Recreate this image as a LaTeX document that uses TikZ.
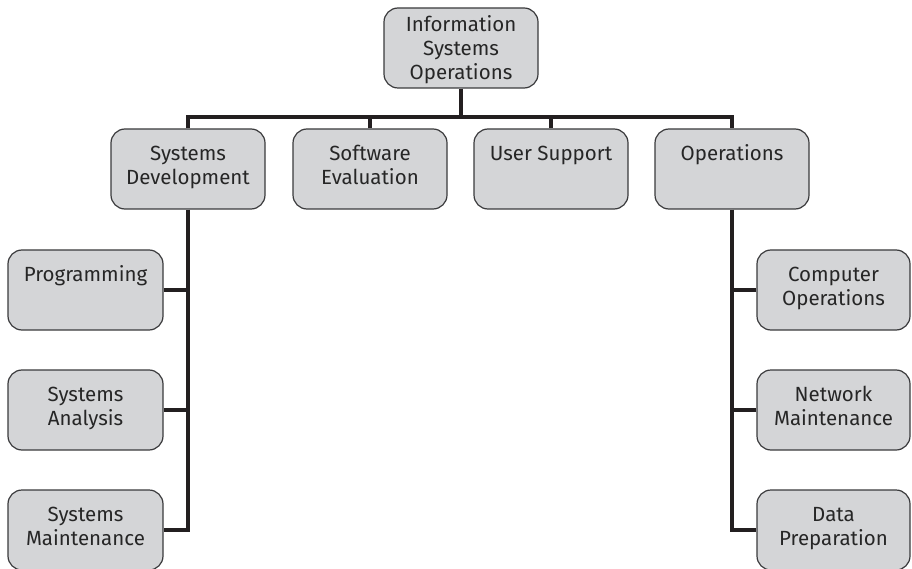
\documentclass[tikz,border=0pt]{standalone}
\usepackage{fontspec}
\setmainfont{Fira Sans}
\definecolor{boxfill}{HTML}{D4D5D7}
\definecolor{boxline}{HTML}{3A3A3C}
\definecolor{wire}{HTML}{231F20}
\tikzset{
  unitbox/.style={draw=boxline, line width=1.2pt, fill=boxfill,
    rounded corners=14pt, minimum width=#1, minimum height=80pt,
    inner sep=0pt},
  unitbox/.default=154pt,
  caption/.style={anchor=base, align=center, inner sep=0pt,
    font=\fontsize{20.5}{24}\selectfont, text=black!85},
  conn/.style={draw=wire, line width=4pt},
}
% box name, centre, width, text, offset of the last baseline from the top edge
\newcommand\orgunit[5]{%
  \node[unitbox=#3] (#1) at #2 {};
  \node[caption] (#1-txt) at ([yshift=-#5]#1.north) {#4};
}
\begin{document}
\begin{tikzpicture}[x=1pt, y=-1pt]
  \useasboundingbox (0,0) rectangle (912,569);

  % top of the hierarchy
  \orgunit{top}{(461,48)}{154pt}{Information\\Systems\\Operations}{72pt}

  % second level
  \orgunit{sd}{(188,169)}{154pt}{Systems\\Development}{56pt}
  \orgunit{se}{(370,169)}{154pt}{Software\\Evaluation}{56pt}
  \orgunit{us}{(551,169)}{154pt}{User Support}{32pt}
  \orgunit{ops}{(732,169)}{154pt}{Operations}{32pt}

  % units under Systems Development
  \orgunit{prog}{(85.5,290)}{155pt}{Programming}{32pt}
  \orgunit{sa}{(85.5,410)}{155pt}{Systems\\Analysis}{56pt}
  \orgunit{sm}{(85.5,530)}{155pt}{Systems\\Maintenance}{56pt}

  % units under Operations
  \orgunit{co}{(833.5,290)}{153pt}{Computer\\Operations}{56pt}
  \orgunit{nm}{(833.5,410)}{153pt}{Network\\Maintenance}{56pt}
  \orgunit{dp}{(833.5,530)}{153pt}{Data\\Preparation}{56pt}

  % bus below the top unit
  \path (top.south) ++(0,28) coordinate (bus);
  \draw[conn] (top.south) -- (bus);
  \draw[conn] (sd.north) |- (bus) -| (ops.north);
  \draw[conn] (se.north) -- (se.north |- bus);
  \draw[conn] (us.north) -- (us.north |- bus);

  % left branch
  \draw[conn] (sd.south) |- (sm.east);
  \draw[conn] (prog.east) -- (prog.east -| sd.south);
  \draw[conn] (sa.east) -- (sa.east -| sd.south);

  % right branch
  \draw[conn] (ops.south) |- (dp.west);
  \draw[conn] (co.west) -- (co.west -| ops.south);
  \draw[conn] (nm.west) -- (nm.west -| ops.south);
\end{tikzpicture}
\end{document}
